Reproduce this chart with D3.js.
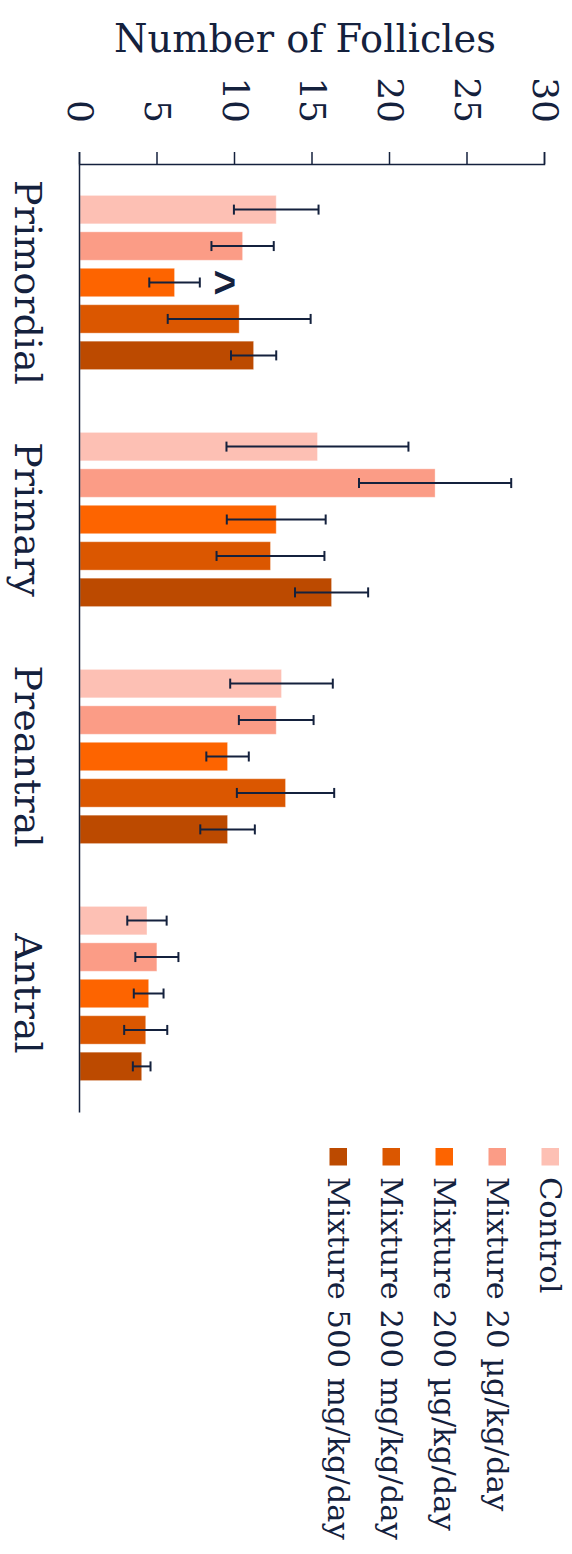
<!DOCTYPE html>
<html><head><meta charset="utf-8">
<script src="https://cdn.jsdelivr.net/npm/d3@7"></script>
<style>
html,body{margin:0;padding:0;background:#fff;}
svg{display:block;}
</style>
</head><body>
<div id="chart"></div>
<script>
const categories = ["Primordial", "Primary", "Preantral", "Antral"];
const series = ["Control", "Mixture 20 µg/kg/day", "Mixture 200 µg/kg/day", "Mixture 200 mg/kg/day", "Mixture 500 mg/kg/day"];
const colors = ["#fdc0b4", "#fb9c86", "#fd6400", "#db5700", "#bc4a00"];
const meanControl = [12.66, 15.32, 13.00, 4.32];
const meanMix20ug = [10.49, 22.91, 12.66, 4.96];
const meanMix200ug = [6.10, 12.66, 9.52, 4.43];
const meanMix200mg = [10.27, 12.29, 13.26, 4.24];
const meanMix500mg = [11.20, 16.23, 9.52, 3.98];
const errControl = [2.73, 5.87, 3.31, 1.27];
const errMix20ug = [2.01, 4.91, 2.41, 1.39];
const errMix200ug = [1.63, 3.19, 1.37, 0.96];
const errMix200mg = [4.61, 3.48, 3.14, 1.39];
const errMix500mg = [1.46, 2.36, 1.76, 0.57];
const yTicks = [0, 5, 10, 15, 20, 25, 30];
const yTitle = "Number of Follicles";
const annotations = [{category: "Primordial", series: "Mixture 200 µg/kg/day", label: "^"}];

const means = [meanControl, meanMix20ug, meanMix200ug, meanMix200mg, meanMix500mg];
const errs = [errControl, errMix20ug, errMix200ug, errMix200mg, errMix500mg];
const data = [];
series.forEach((s, si) => categories.forEach((c, ci) => data.push({series: s, si, category: c, value: means[si][ci], err: errs[si][ci]})));

const W = 572, H = 1554;
const ink = "#14213d";
const serif = "'DejaVu Serif', 'Liberation Serif', serif";

const svg = d3.select("#chart").append("svg").attr("width", W).attr("height", H);

// chart drawn in a landscape frame, rotated clockwise onto the page
const g = svg.append("g").attr("transform", `translate(${W},0) rotate(90)`);
const IW = H, IH = W;
const m = {left: 164, right: IW - 1112, top: 27, bottom: IH - 492};

const x0 = d3.scaleBand().domain(categories).range([m.left, IW - m.right]).paddingInner(0.265).paddingOuter(0.1325);
const x1 = d3.scaleBand().domain(series).range([0, x0.bandwidth()]).paddingInner(0.22);
const y = d3.scaleLinear().domain([0, 30]).range([IH - m.bottom, m.top]);
const color = d3.scaleOrdinal().domain(series).range(colors);

function fit(sel, target) {
  let maxW = 0;
  sel.each(function(){ maxW = Math.max(maxW, this.getComputedTextLength()); });
  const fs = parseFloat(sel.attr("font-size"));
  sel.attr("font-size", fs * target / maxW);
}

// bars
g.append("g").selectAll("rect").data(data).join("rect")
  .attr("x", d => x0(d.category) + x1(d.series))
  .attr("y", d => y(d.value))
  .attr("width", x1.bandwidth())
  .attr("height", d => y(0) - y(d.value))
  .attr("fill", d => color(d.series))
  .attr("stroke", "#fff").attr("stroke-opacity", 0.35).attr("stroke-width", 1);

// error bars
const eb = g.append("g").attr("stroke", ink).attr("stroke-width", 2).attr("fill", "none");
data.forEach(d => {
  const cx = x0(d.category) + x1(d.series) + x1.bandwidth() / 2;
  const lo = y(d.value - d.err), hi = y(d.value + d.err);
  eb.append("line").attr("x1", cx).attr("x2", cx).attr("y1", lo).attr("y2", hi);
  eb.append("line").attr("x1", cx - 5).attr("x2", cx + 5).attr("y1", lo).attr("y2", lo);
  eb.append("line").attr("x1", cx - 5).attr("x2", cx + 5).attr("y1", hi).attr("y2", hi);
});

// annotations
annotations.forEach(a => {
  const d = data.find(e => e.category === a.category && e.series === a.series);
  const cx = x0(d.category) + x1(d.series) + x1.bandwidth() / 2;
  g.append("text").attr("x", cx).attr("y", y(d.value + d.err) - 4)
    .attr("text-anchor", "middle").attr("fill", ink)
    .attr("font-family", "'Liberation Sans', Arial, sans-serif").attr("font-weight", "bold")
    .attr("font-size", 44).text(a.label);
});

// value axis
const yAx = g.append("g").attr("transform", `translate(${m.left},0)`)
  .call(d3.axisLeft(y).tickValues(yTicks).tickSize(12).tickPadding(29));
yAx.selectAll("path,line").attr("stroke", ink).attr("stroke-width", 1.5);
yAx.selectAll("text").attr("fill", ink).attr("font-family", serif).attr("font-size", 36);

// category axis
const xAx = g.append("g").attr("transform", `translate(0,${IH - m.bottom})`)
  .call(d3.axisBottom(x0).tickSize(0).tickSizeOuter(0));
xAx.select("path").attr("stroke", ink).attr("stroke-width", 1.5);
const catText = xAx.selectAll("text").attr("fill", ink).attr("font-family", serif)
  .attr("font-size", 40).attr("y", 65).attr("dy", null);
fit(xAx.selectAll("text").filter(d => d === "Primordial"), 205);
catText.attr("font-size", xAx.selectAll("text").filter(d => d === "Primordial").attr("font-size"));

// legend
const lg = g.append("g").attr("transform", `translate(1148,${m.top - 14})`);
const li = lg.selectAll("g").data(series).join("g").attr("transform", (d, i) => `translate(0,${i * 53})`);
li.append("rect").attr("width", 17.5).attr("height", 17.5).attr("fill", d => color(d));
const lt = li.append("text").attr("x", 29).attr("y", 8.75).attr("dy", "0.35em")
  .attr("fill", ink).attr("font-family", serif).attr("font-size", 32).text(d => d);
fit(lt, 363);

// axis title
const tt = svg.append("text").attr("x", 305).attr("y", 52).attr("text-anchor", "middle")
  .attr("fill", ink).attr("font-family", serif).attr("font-size", 40).text(yTitle);
fit(tt, 382);
</script>
</body></html>
